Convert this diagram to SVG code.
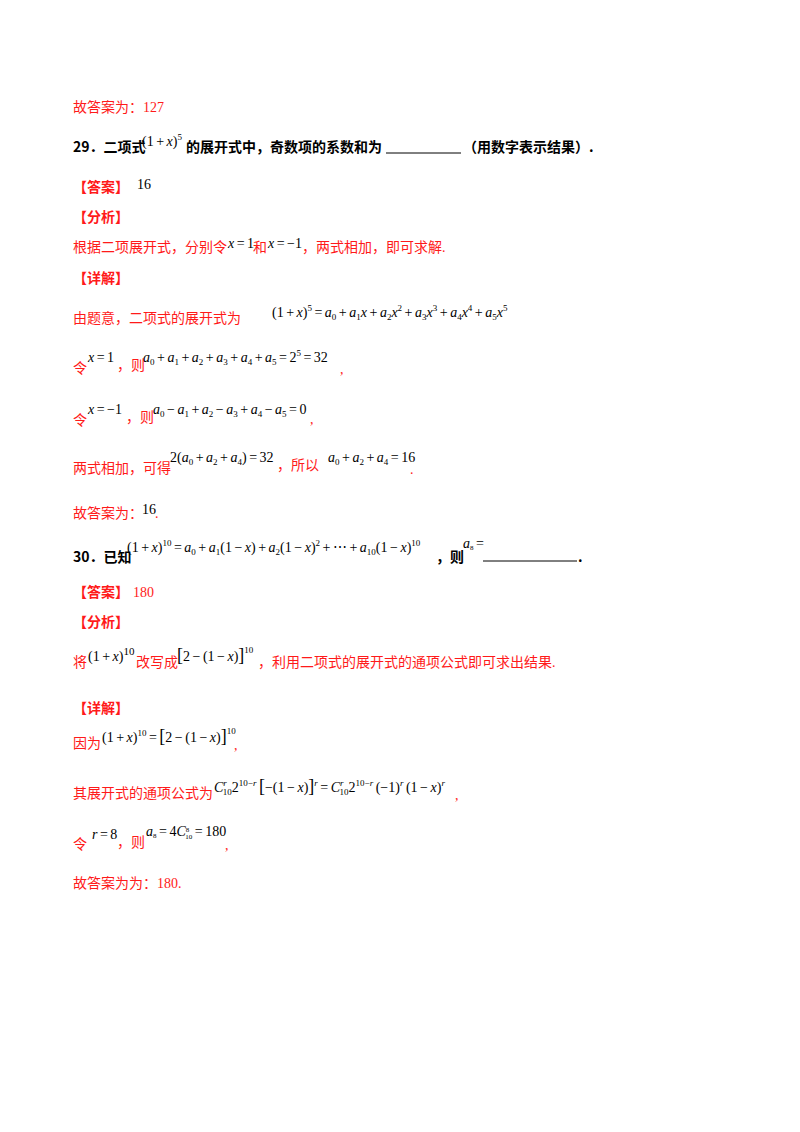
<svg xmlns="http://www.w3.org/2000/svg" width="800" height="1132" viewBox="0 0 800 1132">
<style>
.r{fill:#ff1a1a;font-family:"Liberation Serif","Noto Sans CJK SC",serif;font-size:14px}
.b{fill:#000;font-family:"Noto Sans CJK SC",sans-serif;font-size:14px;font-weight:bold}
.rb{fill:#ff1a1a;font-family:"Noto Sans CJK SC",sans-serif;font-size:14px;font-weight:bold}
.m{fill:#000;font-family:"Liberation Serif",serif;font-size:14px;word-spacing:-1px}
.i{font-style:italic}
.s{font-size:9px}
.u{stroke:#000;stroke-width:1}
</style>
<rect width="800" height="1132" fill="#fff"/>
<text class="r" x="73" y="112">故答案为：127</text>

<text class="b" x="73" y="152">29．二项式</text>
<text class="m" x="142" y="146" font-size="13">(1 + <tspan class="i">x</tspan>)<tspan class="s" dy="-6">5</tspan></text>
<text class="b" x="186" y="152">的展开式中，奇数项的系数和为</text>
<line class="u" x1="386" y1="153" x2="461" y2="153"/>
<text class="b" x="463" y="152">（用数字表示结果）.</text>

<text class="rb" x="73" y="192">【答案】</text>
<text class="m" x="137" y="189" font-size="13">16</text>
<text class="rb" x="73" y="222">【分析】</text>
<text class="r" x="73" y="252">根据二项展开式，分别令</text>
<text class="m" x="228" y="248"><tspan class="i">x</tspan> = 1</text>
<text class="r" x="253" y="252">和</text>
<text class="m" x="268" y="248"><tspan class="i">x</tspan> = −1</text>
<text class="r" x="302" y="252">，两式相加，即可求解.</text>
<text class="rb" x="73" y="283">【详解】</text>

<text class="r" x="73" y="323">由题意，二项式的展开式为</text>
<text class="m" x="272" y="317">(1 + <tspan class="i">x</tspan>)<tspan class="s" dy="-6">5</tspan><tspan dy="6"> = </tspan><tspan class="i">a</tspan><tspan class="s" dy="3">0</tspan><tspan dy="-3"> + </tspan><tspan class="i">a</tspan><tspan class="s" dy="3">1</tspan><tspan class="i" dy="-3">x</tspan> + <tspan class="i">a</tspan><tspan class="s" dy="3">2</tspan><tspan class="i" dy="-3">x</tspan><tspan class="s" dy="-6">2</tspan><tspan dy="6"> + </tspan><tspan class="i">a</tspan><tspan class="s" dy="3">3</tspan><tspan class="i" dy="-3">x</tspan><tspan class="s" dy="-6">3</tspan><tspan dy="6"> + </tspan><tspan class="i">a</tspan><tspan class="s" dy="3">4</tspan><tspan class="i" dy="-3">x</tspan><tspan class="s" dy="-6">4</tspan><tspan dy="6"> + </tspan><tspan class="i">a</tspan><tspan class="s" dy="3">5</tspan><tspan class="i" dy="-3">x</tspan><tspan class="s" dy="-6">5</tspan></text>

<text class="r" x="73" y="373">令</text>
<text class="m" x="88" y="362"><tspan class="i">x</tspan> = 1</text>
<text class="r" x="117" y="370">，则</text>
<text class="m" x="143" y="362"><tspan class="i">a</tspan><tspan class="s" dy="3">0</tspan><tspan dy="-3"> + </tspan><tspan class="i">a</tspan><tspan class="s" dy="3">1</tspan><tspan dy="-3"> + </tspan><tspan class="i">a</tspan><tspan class="s" dy="3">2</tspan><tspan dy="-3"> + </tspan><tspan class="i">a</tspan><tspan class="s" dy="3">3</tspan><tspan dy="-3"> + </tspan><tspan class="i">a</tspan><tspan class="s" dy="3">4</tspan><tspan dy="-3"> + </tspan><tspan class="i">a</tspan><tspan class="s" dy="3">5</tspan><tspan dy="-3"> = 2</tspan><tspan class="s" dy="-6">5</tspan><tspan dy="6"> = 32</tspan></text>
<text class="r" x="340" y="374">,</text>

<text class="r" x="73" y="425">令</text>
<text class="m" x="88" y="414"><tspan class="i">x</tspan> = −1</text>
<text class="r" x="126" y="422">，则</text>
<text class="m" x="153" y="414"><tspan class="i">a</tspan><tspan class="s" dy="3">0</tspan><tspan dy="-3"> − </tspan><tspan class="i">a</tspan><tspan class="s" dy="3">1</tspan><tspan dy="-3"> + </tspan><tspan class="i">a</tspan><tspan class="s" dy="3">2</tspan><tspan dy="-3"> − </tspan><tspan class="i">a</tspan><tspan class="s" dy="3">3</tspan><tspan dy="-3"> + </tspan><tspan class="i">a</tspan><tspan class="s" dy="3">4</tspan><tspan dy="-3"> − </tspan><tspan class="i">a</tspan><tspan class="s" dy="3">5</tspan><tspan dy="-3"> = 0</tspan></text>
<text class="r" x="310" y="424">,</text>

<text class="r" x="73" y="473">两式相加，可得</text>
<text class="m" x="170" y="462">2(<tspan class="i">a</tspan><tspan class="s" dy="3">0</tspan><tspan dy="-3"> + </tspan><tspan class="i">a</tspan><tspan class="s" dy="3">2</tspan><tspan dy="-3"> + </tspan><tspan class="i">a</tspan><tspan class="s" dy="3">4</tspan><tspan dy="-3">) = 32</tspan></text>
<text class="r" x="277" y="470">，所以</text>
<text class="m" x="328" y="462"><tspan class="i">a</tspan><tspan class="s" dy="3">0</tspan><tspan dy="-3"> + </tspan><tspan class="i">a</tspan><tspan class="s" dy="3">2</tspan><tspan dy="-3"> + </tspan><tspan class="i">a</tspan><tspan class="s" dy="3">4</tspan><tspan dy="-3"> = 16</tspan></text>
<text class="r" x="410" y="474">.</text>

<text class="r" x="73" y="518">故答案为：</text>
<text class="m" x="142" y="514" font-size="13">16</text>
<text class="r" x="155" y="518">.</text>

<text class="b" x="73" y="562">30．已知</text>
<text class="m" x="127" y="552">(1 + <tspan class="i">x</tspan>)<tspan class="s" dy="-6">10</tspan><tspan dy="6"> = </tspan><tspan class="i">a</tspan><tspan class="s" dy="3">0</tspan><tspan dy="-3"> + </tspan><tspan class="i">a</tspan><tspan class="s" dy="3">1</tspan><tspan dy="-3">(1 − </tspan><tspan class="i">x</tspan>) + <tspan class="i">a</tspan><tspan class="s" dy="3">2</tspan><tspan dy="-3">(1 − </tspan><tspan class="i">x</tspan>)<tspan class="s" dy="-6">2</tspan><tspan dy="6"> + ⋯ + </tspan><tspan class="i">a</tspan><tspan class="s" dy="3">10</tspan><tspan dy="-3">(1 − </tspan><tspan class="i">x</tspan>)<tspan class="s" dy="-6">10</tspan></text>
<text class="b" x="436" y="562">，则</text>
<text class="m" x="463" y="548" font-size="11"><tspan class="i">a</tspan><tspan font-size="7" dy="2">8</tspan><tspan dy="-2"> =</tspan></text>
<line class="u" x1="483" y1="561" x2="577" y2="561"/>
<text class="b" x="578" y="562">.</text>

<text class="rb" x="73" y="597">【答案】</text>
<text class="r" x="133" y="597">180</text>
<text class="rb" x="73" y="627">【分析】</text>
<text class="r" x="73" y="667">将</text>
<text class="m" x="88" y="661">(1 + <tspan class="i">x</tspan>)<tspan font-size="11" dy="-6">10</tspan></text>
<text class="r" x="136" y="667">改写成</text>
<text class="m" x="177" y="661"><tspan font-size="18">[</tspan>2 − (1 − <tspan class="i">x</tspan>)<tspan font-size="18">]</tspan><tspan class="s" dy="-8">10</tspan></text>
<text class="r" x="258" y="667">，利用二项式的展开式的通项公式即可求出结果.</text>

<text class="rb" x="73" y="713">【详解】</text>
<text class="r" x="73" y="748">因为</text>
<text class="m" x="102" y="742">(1 + <tspan class="i">x</tspan>)<tspan class="s" dy="-6">10</tspan><tspan dy="6"> = </tspan><tspan font-size="18">[</tspan>2 − (1 − <tspan class="i">x</tspan>)<tspan font-size="18">]</tspan><tspan class="s" dy="-8">10</tspan></text>
<text class="r" x="234" y="750">,</text>

<text class="r" x="73" y="798">其展开式的通项公式为</text>
<text class="m" x="214" y="792"><tspan class="i">C</tspan><tspan class="s i" dy="-6">r</tspan><tspan class="s" dx="-4" dy="9">10</tspan><tspan dy="-3">2</tspan><tspan class="s" dy="-6">10−</tspan><tspan class="s i">r</tspan><tspan dy="6"> </tspan><tspan font-size="18">[</tspan>−(1 − <tspan class="i">x</tspan>)<tspan font-size="18">]</tspan><tspan class="s i" dy="-6">r</tspan><tspan dy="6"> = </tspan><tspan class="i">C</tspan><tspan class="s i" dy="-6">r</tspan><tspan class="s" dx="-4" dy="9">10</tspan><tspan dy="-3">2</tspan><tspan class="s" dy="-6">10−</tspan><tspan class="s i">r</tspan><tspan dy="6"> (−1)</tspan><tspan class="s i" dy="-6">r</tspan><tspan dy="6"> (1 − </tspan><tspan class="i">x</tspan>)<tspan class="s i" dy="-6">r</tspan></text>
<text class="r" x="455" y="800">,</text>

<text class="r" x="73" y="849">令</text>
<text class="m" x="92" y="839"><tspan class="i">r</tspan> = 8</text>
<text class="r" x="117" y="847">，则</text>
<text class="m" x="146" y="836" font-size="11"><tspan class="i">a</tspan><tspan font-size="7" dy="2">8</tspan><tspan dy="-2"> = 4</tspan><tspan class="i">C</tspan><tspan font-size="7" dy="-4">8</tspan><tspan font-size="7" dx="-4" dy="7">10</tspan><tspan dy="-3"> = 180</tspan></text>
<text class="r" x="225" y="850">,</text>

<text class="r" x="73" y="888">故答案为为：180.</text>
</svg>
